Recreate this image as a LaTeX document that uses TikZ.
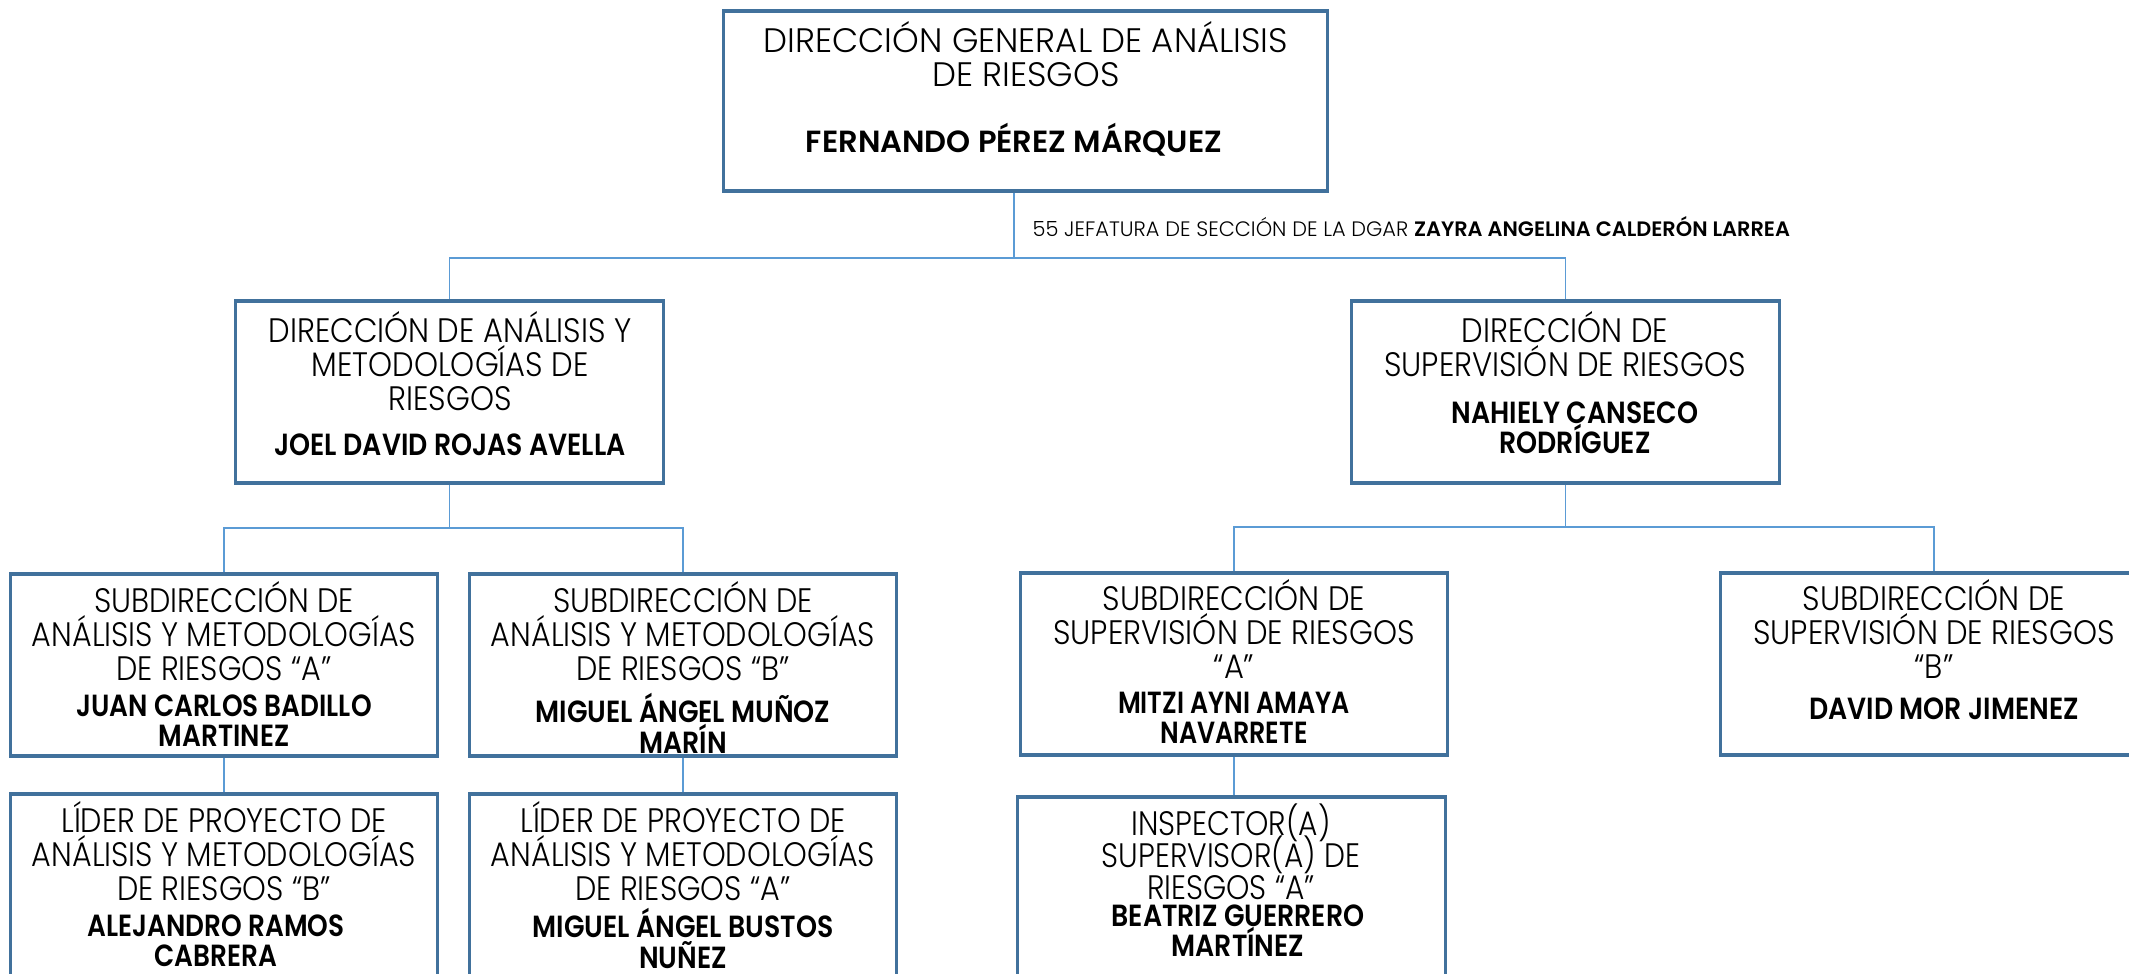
\documentclass[tikz,border=0pt]{standalone}
\usepackage{fontspec}
\setmainfont{Poppins}[UprightFont=*-Light,BoldFont=*-SemiBold]
\newfontfamily\fNine{Poppins}[UprightFont=*-Light,BoldFont=*-SemiBold,FakeStretch=0.9]
\newfontfamily\fSub{Poppins}[UprightFont=*-Light,BoldFont=*-SemiBold,FakeStretch=0.89]
\newfontfamily\fEightEight{Poppins}[UprightFont=*-Light,BoldFont=*-SemiBold,FakeStretch=0.875]
\newfontfamily\fEightSix{Poppins}[UprightFont=*-Light,BoldFont=*-SemiBold,FakeStretch=0.86]
\newfontfamily\fEightFour{Poppins}[UprightFont=*-Light,BoldFont=*-SemiBold,FakeStretch=0.83]
\definecolor{boxc}{HTML}{41719C}
\definecolor{linec}{HTML}{5B9BD5}
\tikzset{
 box/.style={draw=boxc, line width=0.9pt, minimum width=4.27cm, minimum height=1.82cm, inner sep=0pt},
 ttl/.style={anchor=north, align=center, font={#1\fontsize{9.65}{9.6}\selectfont\lineskiplimit=-20pt}, inner sep=0pt},
 ttl/.default={},
 nm/.style={anchor=north, align=center, font={#1\fontsize{8.7}{8.6}\selectfont\lineskiplimit=-20pt\bfseries}, inner sep=0pt},
 nm/.default={},
 conn/.style={draw=linec, line width=0.45pt},
 lbl/.style={anchor=west, font=\fontsize{5.94}{6.5}\selectfont, inner sep=0pt},
}
\begin{document}
\begin{tikzpicture}[x=0.01cm,y=-0.01cm]
\useasboundingbox (0,0) rectangle (2129,974);
\clip (0,0) rectangle (2129,974);
% boxes
\node[box, minimum width=6.03cm, minimum height=1.80cm] (top) at (1025.5,101) {};
\node[box] (dl) at (449.5,392) {};
\node[box] (dr) at (1565.5,392) {};
\node[box] (sa) at (224,665) {};
\node[box] (sb) at (683,665) {};
\node[box, minimum height=2.12cm] (la) at (224,900) {};
\node[box, minimum height=2.12cm] (lb) at (683,900) {};
\node[box] (ssa) at (1234,664) {};
\node[box] (ssb) at (1934,664) {};
\node[box, minimum height=2.12cm] (ins) at (1231.5,903) {};
% texts
\node[ttl] (t0) at (1026,21) {DIRECCIÓN GENERAL DE ANÁLISIS\\DE RIESGOS};
\node[nm] (n0) at (1014,123) {FERNANDO PÉREZ MÁRQUEZ};
\node[lbl] (jef) at (1032,227) {55 JEFATURA DE SECCIÓN DE LA DGAR \textbf{ZAYRA ANGELINA CALDERÓN LARREA}};
\node[ttl=\fNine] (tdl) at (450,311) {DIRECCIÓN DE ANÁLISIS Y\\METODOLOGÍAS DE\\RIESGOS};
\node[nm=\fEightEight] (ndl) at (450,433) {JOEL DAVID ROJAS AVELLA};
\node[ttl=\fNine] (tdr) at (1565,311) {DIRECCIÓN DE\\SUPERVISIÓN DE RIESGOS};
\node[nm=\fEightEight] (ndr) at (1575,401) {NAHIELY CANSECO\\RODRÍGUEZ};
\node[ttl=\fSub] (tsa) at (224,581) {SUBDIRECCIÓN DE\\ANÁLISIS Y METODOLOGÍAS\\DE RIESGOS “A”};
\node[nm=\fEightSix] (nsa) at (224,694) {JUAN CARLOS BADILLO\\MARTINEZ};
\node[ttl=\fSub] (tsb) at (683,581) {SUBDIRECCIÓN DE\\ANÁLISIS Y METODOLOGÍAS\\DE RIESGOS “B”};
\node[nm=\fEightEight] (nsb) at (683,693) {MIGUEL ÁNGEL MUÑOZ\\MARÍN};
\node[ttl=\fSub] (tla) at (224,801) {LÍDER DE PROYECTO DE\\ANÁLISIS Y METODOLOGÍAS\\DE RIESGOS “B”};
\node[nm=\fEightSix] (nla) at (216,914) {ALEJANDRO RAMOS\\CABRERA};
\node[ttl=\fSub] (tlb) at (683,801) {LÍDER DE PROYECTO DE\\ANÁLISIS Y METODOLOGÍAS\\DE RIESGOS “A”};
\node[nm=\fEightEight] (nlb) at (683,908) {MIGUEL ÁNGEL BUSTOS\\NUÑEZ};
\node[ttl=\fNine] (tssa) at (1234,579) {SUBDIRECCIÓN DE\\SUPERVISIÓN DE RIESGOS\\“A”};
\node[nm=\fEightFour] (nssa) at (1234,691) {MITZI AYNI AMAYA\\NAVARRETE};
\node[ttl=\fNine] (tssb) at (1934,579) {SUBDIRECCIÓN DE\\SUPERVISIÓN DE RIESGOS\\“B”};
\node[nm=\fEightEight] (nssb) at (1944,697) {DAVID MOR JIMENEZ};
\node[ttl, font={\fEightEight\fontsize{9.65}{9.1}\selectfont\lineskiplimit=-20pt}] (tins) at (1231,803) {INSPECTOR(A)\\SUPERVISOR(A) DE\\RIESGOS “A”};
\node[nm=\fEightEight] (nins) at (1238,904) {BEATRIZ GUERRERO\\MARTÍNEZ};
% connectors
\coordinate (j0) at (1014,258);
\draw[conn] (top.south -| j0) -- (j0);
\draw[conn] (dl.north) |- (j0) -| (dr.north);
\coordinate (j1) at (449.5,528);
\draw[conn] (dl.south) -- (j1);
\draw[conn] (sa.north) |- (j1) -| (sb.north);
\coordinate (j2) at (1565.5,527);
\draw[conn] (dr.south) -- (j2);
\draw[conn] (ssa.north) |- (j2) -| (ssb.north);
\draw[conn] (sa.south) -- (la.north);
\draw[conn] (sb.south) -- (lb.north);
\draw[conn] (ssa.south) -- (ssa.south |- ins.north);
\end{tikzpicture}
\end{document}
